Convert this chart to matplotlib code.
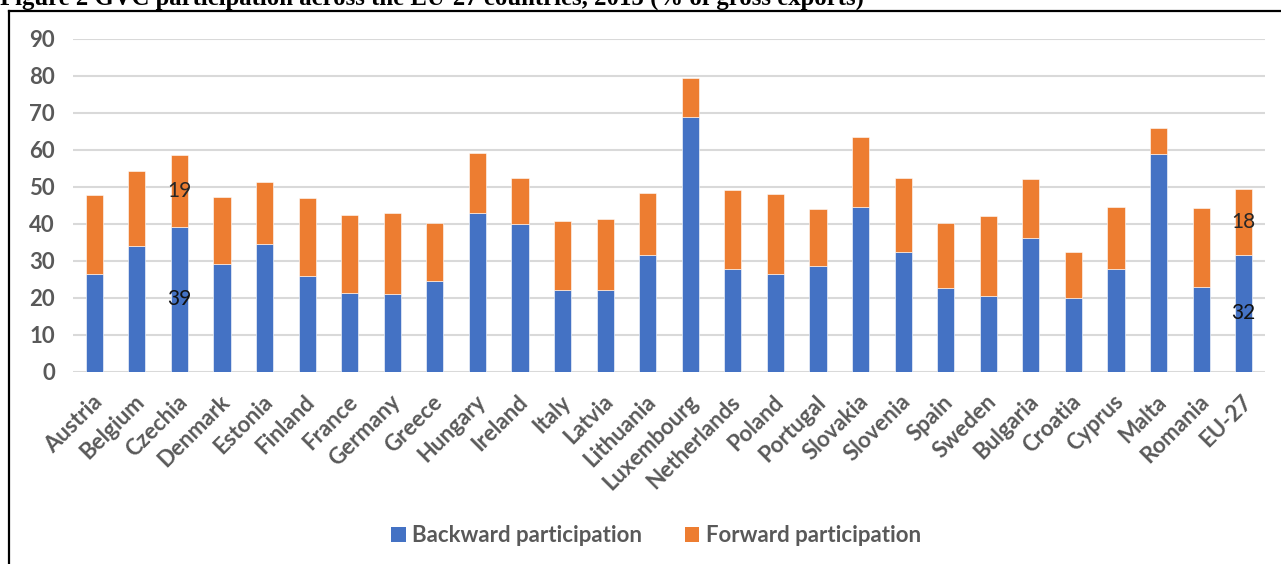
import numpy as np
import matplotlib.pyplot as plt
import matplotlib.transforms as mtransforms
from matplotlib.lines import Line2D
from matplotlib.patches import Patch

countries = ['Austria', 'Belgium', 'Czechia', 'Denmark', 'Estonia', 'Finland', 'France',
             'Germany', 'Greece', 'Hungary', 'Ireland', 'Italy', 'Latvia', 'Lithuania',
             'Luxembourg', 'Netherlands', 'Poland', 'Portugal', 'Slovakia', 'Slovenia',
             'Spain', 'Sweden', 'Bulgaria', 'Croatia', 'Cyprus', 'Malta', 'Romania', 'EU-27']

backward = [26.3, 34.0, 39.1, 29.1, 34.6, 25.9, 21.4, 21.0, 24.4, 43.0, 40.0, 22.2, 22.2, 31.6,
            68.8, 27.9, 26.5, 28.5, 44.6, 32.5, 22.5, 20.6, 36.2, 20.0, 27.8, 59.0, 22.9, 31.6]
total = [47.8, 54.3, 58.5, 47.3, 51.4, 47.1, 42.5, 42.8, 40.2, 59.1, 52.3, 40.7, 41.2, 48.3,
         79.4, 49.1, 48.1, 43.9, 63.4, 52.4, 40.2, 42.1, 52.1, 32.4, 44.5, 66.0, 44.2, 49.3]
forward = [round(t - b, 1) for t, b in zip(total, backward)]

# only these two bars carry value labels
labelled = {'Czechia': ('39', '19'), 'EU-27': ('32', '18')}

blue = '#4472C4'
orange = '#ED7D31'
grey = '#595959'

fig = plt.figure(figsize=(12.81, 5.64), dpi=100)
ax = fig.add_axes([0.057, 0.341, 0.9305, 0.590])

x = np.arange(len(countries))
ax.bar(x, backward, width=0.4, color=blue, edgecolor='white', linewidth=0.4, zorder=3)
ax.bar(x, forward, width=0.4, bottom=backward, color=orange, edgecolor='white',
       linewidth=0.4, zorder=3)

for name, (lb, lf) in labelled.items():
    i = countries.index(name)
    b = backward[i]
    f = forward[i]
    ax.text(i, b / 2, lb, ha='center', va='center', fontsize=15, family='Lato',
            color='#111111', zorder=4)
    ax.text(i, b + f / 2, lf, ha='center', va='center', fontsize=15, family='Lato',
            color='#262626', zorder=4)

ax.set_xlim(-0.5, len(countries) - 0.5)
ax.set_ylim(0, 90)
ax.set_yticks(np.arange(0, 91, 10))
ax.yaxis.grid(True, color='#d9d9d9', linewidth=1.5, zorder=0)
ax.set_axisbelow(True)
for s in ax.spines.values():
    s.set_visible(False)
ax.tick_params(axis='both', length=0)
ax.tick_params(axis='y', pad=13)
ax.set_yticklabels([str(v) for v in range(0, 91, 10)], fontsize=16, family='Lato',
                   fontweight='bold', color=grey)
ax.set_xticks(x)
ax.set_xticklabels(countries, rotation=45, ha='right', va='top', rotation_mode='anchor',
                   fontsize=16, family='Lato', fontweight='bold', color=grey)
ax.tick_params(axis='x', pad=14)
# nudge the slanted names a little to the left
shift = mtransforms.ScaledTranslation(-3 / 100, 0, fig.dpi_scale_trans)
for lbl in ax.get_xticklabels():
    lbl.set_transform(lbl.get_transform() + shift)

handles = [Patch(facecolor=blue, label='Backward participation'),
           Patch(facecolor=orange, label='Forward participation')]
fig.legend(handles=handles, loc='center', bbox_to_anchor=(656 / 1281, 1 - 536 / 564), ncol=2,
           frameon=False, prop={'family': 'Lato', 'weight': 'bold', 'size': 16},
           labelcolor=grey, handlelength=0.65, handleheight=0.65, handletextpad=0.3,
           columnspacing=1.9)

# caption sits above the frame, mostly cut off by the top edge
fig.text(0.0, 1 - 4.5 / 564, 'Figure 2 GVC participation across the EU-27 countries, 2015 (% of gross exports)',
         family='Liberation Serif', fontweight='bold', fontsize=17.8, va='baseline', ha='left')

fig.add_artist(Line2D([9 / 1281, 1], [1 - 10.5 / 564, 1 - 10.5 / 564], color='black', linewidth=1.6))
fig.add_artist(Line2D([9 / 1281, 9 / 1281], [0, 1 - 10.5 / 564], color='black', linewidth=1.6))

fig.savefig('out.png', dpi=100)
